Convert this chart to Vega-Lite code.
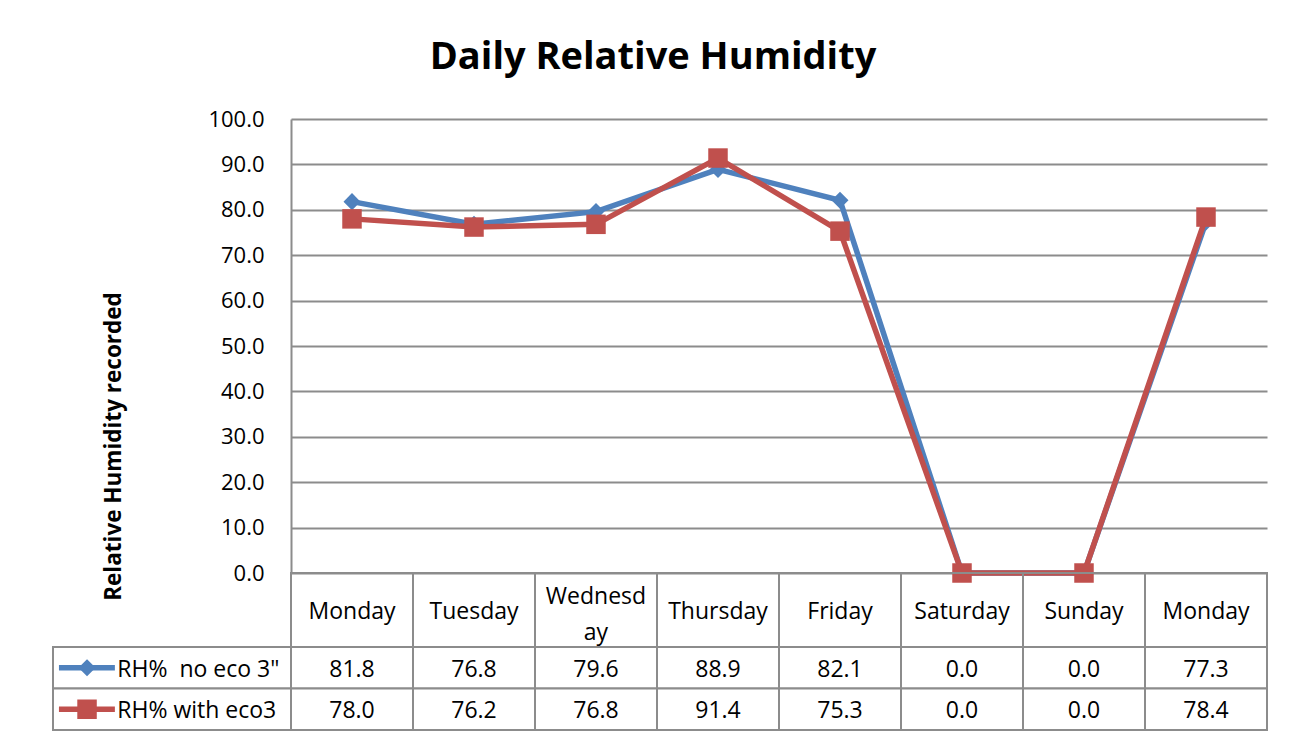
{
  "$schema": "https://vega.github.io/schema/vega-lite/v6.json",
  "padding": {"left": 52, "top": 39, "right": 10, "bottom": 5},
  "title": {"text": "Daily Relative Humidity", "fontSize": 38, "fontWeight": "bold", "anchor": "middle", "offset": 31, "dx": -7, "color": "#000000", "font": "Open Sans"},
  "datasets": {
    "rh": [
      {"slot": 1, "day": "Monday", "series": "RH%\u00a0 no eco 3\"", "value": 81.8},
      {"slot": 2, "day": "Tuesday", "series": "RH%\u00a0 no eco 3\"", "value": 76.8},
      {"slot": 3, "day": "Wednesday", "series": "RH%\u00a0 no eco 3\"", "value": 79.6},
      {"slot": 4, "day": "Thursday", "series": "RH%\u00a0 no eco 3\"", "value": 88.9},
      {"slot": 5, "day": "Friday", "series": "RH%\u00a0 no eco 3\"", "value": 82.1},
      {"slot": 6, "day": "Saturday", "series": "RH%\u00a0 no eco 3\"", "value": 0.0},
      {"slot": 7, "day": "Sunday", "series": "RH%\u00a0 no eco 3\"", "value": 0.0},
      {"slot": 8, "day": "Monday", "series": "RH%\u00a0 no eco 3\"", "value": 77.3},
      {"slot": 1, "day": "Monday", "series": "RH% with eco3", "value": 78.0},
      {"slot": 2, "day": "Tuesday", "series": "RH% with eco3", "value": 76.2},
      {"slot": 3, "day": "Wednesday", "series": "RH% with eco3", "value": 76.8},
      {"slot": 4, "day": "Thursday", "series": "RH% with eco3", "value": 91.4},
      {"slot": 5, "day": "Friday", "series": "RH% with eco3", "value": 75.3},
      {"slot": 6, "day": "Saturday", "series": "RH% with eco3", "value": 0.0},
      {"slot": 7, "day": "Sunday", "series": "RH% with eco3", "value": 0.0},
      {"slot": 8, "day": "Monday", "series": "RH% with eco3", "value": 78.4}
    ]
  },
  "columns": 2,
  "spacing": 0,
  "bounds": "flush",
  "concat": [
    {
      "width": 238, "height": 454,
      "data": {"values": [{}]},
      "mark": {"type": "text", "text": ""}
    },
    {
      "width": 976, "height": 454,
      "data": {"name": "rh"},
      "encoding": {
        "x": {"field": "slot", "type": "ordinal", "axis": null, "scale": {"type": "point", "padding": 0.5}},
        "y": {
          "field": "value", "type": "quantitative",
          "scale": {"domain": [0, 100], "nice": false},
          "axis": {
            "values": [0, 10, 20, 30, 40, 50, 60, 70, 80, 90, 100],
            "format": ".1f",
            "title": "Relative Humidity recorded",
            "titleFontSize": 22.5, "titleFontWeight": "bold", "titleColor": "#000000", "titlePadding": 82, "titleY": 327,
            "labelFontSize": 22, "labelColor": "#000000", "labelPadding": 27,
            "grid": true, "gridColor": "#8c8c8c", "gridWidth": 2,
            "domain": true, "domainColor": "#8c8c8c", "domainWidth": 2,
            "ticks": false
          }
        },
        "color": {
          "field": "series", "type": "nominal",
          "scale": {"domain": ["RH%\u00a0 no eco 3\"", "RH% with eco3"], "range": ["#4f81bd", "#c0504d"]},
          "legend": null
        }
      },
      "layer": [
        {"transform": [{"filter": "datum.series != 'RH% with eco3'"}], "mark": {"type": "line", "strokeWidth": 5.5}},
        {"transform": [{"filter": "datum.series != 'RH% with eco3'"}], "mark": {"type": "point", "shape": "diamond", "filled": true, "opacity": 1, "size": 290}},
        {"transform": [{"filter": "datum.series == 'RH% with eco3'"}], "mark": {"type": "line", "strokeWidth": 5.5}},
        {"transform": [{"filter": "datum.series == 'RH% with eco3'"}], "mark": {"type": "point", "shape": "square", "filled": true, "opacity": 1, "size": 380}}
      ]
    },
    {
      "width": 238, "height": 74,
      "data": {"values": [{}]},
      "mark": {"type": "text", "text": ""}
    },
    {
      "width": 976, "height": 74,
      "data": {"name": "rh"},
      "transform": [
        {"filter": "datum.series == 'RH% with eco3'"}
      ],
      "encoding": {
        "x": {"field": "slot", "type": "ordinal", "axis": null, "scale": {"type": "band", "paddingInner": 0, "paddingOuter": 0}}
      },
      "layer": [
        {"mark": {"type": "rect", "fill": null, "fillOpacity": 0, "stroke": "#8c8c8c", "strokeWidth": 2}},
        {
          "transform": [{"filter": "datum.day != 'Wednesday'"}],
          "mark": {"type": "text", "fontSize": 23, "color": "#000000", "baseline": "middle", "dy": 2},
          "encoding": {"text": {"field": "day"}}
        },
        {
          "transform": [
            {"filter": "datum.day == 'Wednesday'"},
            {"calculate": "['Wednesd', 'ay']", "as": "hdr"}
          ],
          "mark": {"type": "text", "fontSize": 23, "color": "#000000", "baseline": "middle", "lineHeight": 36, "dy": -13},
          "encoding": {"text": {"field": "hdr"}}
        }
      ]
    },
    {
      "width": 238, "height": 83,
      "data": {"name": "rh"},
      "transform": [{"filter": "datum.slot == 1"}],
      "encoding": {
        "y": {"field": "series", "type": "nominal", "axis": null, "sort": null, "scale": {"type": "band", "paddingInner": 0, "paddingOuter": 0}}
      },
      "layer": [
        {"mark": {"type": "rect", "fill": "#ffffff", "stroke": "#8c8c8c", "strokeWidth": 2}},
        {
          "mark": {"type": "rule", "strokeWidth": 5.5},
          "encoding": {
            "x": {"datum": 0.025, "type": "quantitative", "scale": {"domain": [0, 1]}, "axis": null},
            "x2": {"datum": 0.26},
            "y": {"field": "series", "type": "nominal", "bandPosition": 0.5},
            "color": {"field": "series", "type": "nominal", "scale": {"domain": ["RH%\u00a0 no eco 3\"", "RH% with eco3"], "range": ["#4f81bd", "#c0504d"]}, "legend": null}
          }
        },
        {
          "mark": {"type": "point", "filled": true, "opacity": 1},
          "encoding": {
            "x": {"datum": 0.143, "type": "quantitative"},
            "y": {"field": "series", "type": "nominal", "bandPosition": 0.5},
            "color": {"field": "series", "type": "nominal", "legend": null},
            "shape": {"field": "series", "type": "nominal", "scale": {"domain": ["RH%\u00a0 no eco 3\"", "RH% with eco3"], "range": ["diamond", "square"]}, "legend": null},
            "size": {"field": "series", "type": "nominal", "scale": {"domain": ["RH%\u00a0 no eco 3\"", "RH% with eco3"], "range": [290, 380]}, "legend": null}
          }
        },
        {
          "mark": {"type": "text", "fontSize": 23, "color": "#000000", "align": "left", "baseline": "middle", "dy": 2},
          "encoding": {
            "x": {"datum": 0.27, "type": "quantitative"},
            "y": {"field": "series", "type": "nominal", "bandPosition": 0.5},
            "text": {"field": "series"}
          }
        }
      ]
    },
    {
      "width": 976, "height": 83,
      "data": {"name": "rh"},
      "encoding": {
        "x": {"field": "slot", "type": "ordinal", "axis": null, "scale": {"type": "band", "paddingInner": 0, "paddingOuter": 0}},
        "y": {"field": "series", "type": "nominal", "axis": null, "sort": null, "scale": {"type": "band", "paddingInner": 0, "paddingOuter": 0}}
      },
      "layer": [
        {"mark": {"type": "rect", "fill": "#ffffff", "stroke": "#8c8c8c", "strokeWidth": 2}},
        {"mark": {"type": "text", "fontSize": 23, "color": "#000000", "baseline": "middle", "dy": 2}, "encoding": {"text": {"field": "value", "format": ".1f"}}}
      ]
    }
  ],
  "config": {
    "font": "Open Sans",
    "view": {"stroke": null},
    "background": "#ffffff"
  }
}
